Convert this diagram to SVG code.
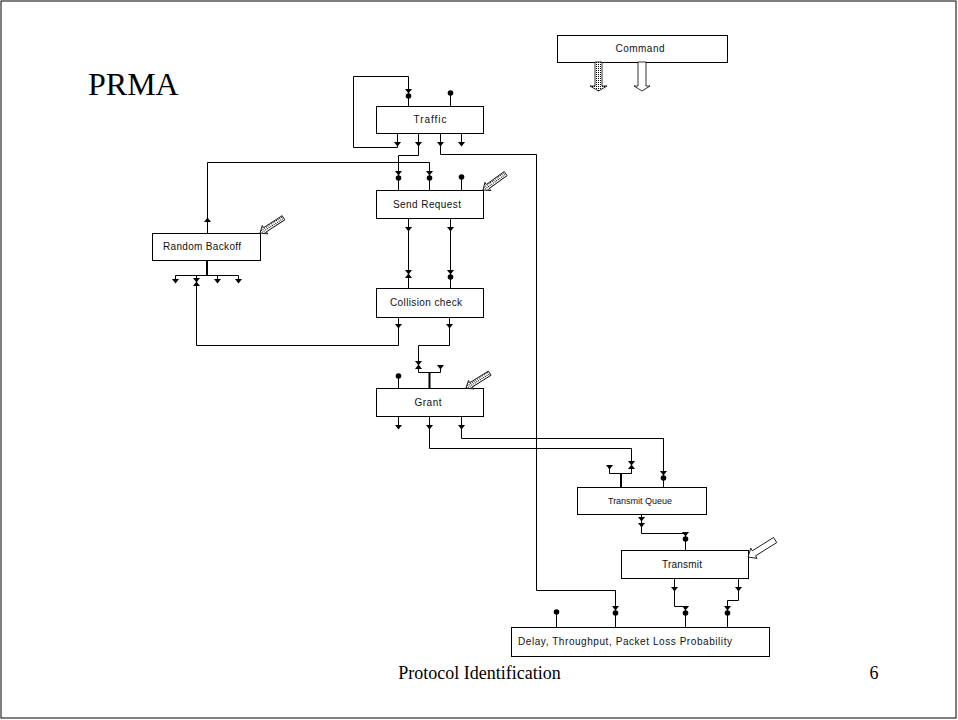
<svg xmlns="http://www.w3.org/2000/svg" width="958" height="720" viewBox="0 0 958 720">
<defs>
<style>
.box{fill:#fff;stroke:#000;stroke-width:1}
.lbl{font-family:"Liberation Sans",Arial,sans-serif;font-size:10px;fill:#111;text-anchor:middle}
.ln{fill:none;stroke:#000;stroke-width:1}
.thick{fill:none;stroke:#000;stroke-width:2}
.ttl{font-family:"Liberation Serif","Times New Roman",serif;fill:#000}
.hatch{fill:url(#dots);stroke:#000;stroke-width:0.8}
.hollow{fill:#fff;stroke:#000;stroke-width:0.8}
</style>
<pattern id="dots" width="2" height="2" patternUnits="userSpaceOnUse">
<rect width="2" height="2" fill="#fff"/>
<rect width="1" height="1" fill="#000"/>
</pattern>
<path id="dn" d="M-3.5,0 L3.5,0 L0,4.5 Z" fill="#000"/>
<path id="up" d="M-3.5,0 L3.5,0 L0,-4.5 Z" fill="#000"/>
<circle id="dot" r="2.8" fill="#000"/>
<g id="harrow">
<path d="M0,0 L6,-5 L6,-2.5 L28,-2.5 L28,2.5 L6,2.5 L6,5 Z" class="hatch"/>
</g>
<g id="oarrow">
<path d="M0,0 L7,-6 L7,-3 L32,-3 L32,3 L7,3 L7,6 Z" class="hollow"/>
</g>
</defs>

<rect x="1" y="1" width="955" height="717" fill="#fff" stroke="#000" stroke-width="1"/>

<text class="ttl" x="88" y="95" font-size="32">PRMA</text>
<text class="ttl" x="479.5" y="679" font-size="18" text-anchor="middle">Protocol Identification</text>
<text class="ttl" x="874" y="679" font-size="18" text-anchor="middle">6</text>

<g id="connectors">
<path class="ln" d="M397.5,133 V147.5 H353.5 V76.5 H408.5 V106"/>
<path class="ln" d="M418.5,133 V155.5 H398.5 V190"/>
<path class="ln" d="M440.5,133 V154.5 H536.5 V590.5 H615.5 V627"/>
<path class="ln" d="M461.5,133 V143"/>
<path class="ln" d="M207.5,233 V162.5 H429.5 V190"/>
<path class="ln" d="M408.5,218 V288"/>
<path class="ln" d="M450.5,218 V288"/>
<path class="ln" d="M398.5,318 V345.5 H196.5 V280"/>
<path class="ln" d="M449.5,318 V345.5 H418.5 V372.5 H440.5 V366"/>
<path class="thick" d="M429.5,372 V388"/>
<path class="ln" d="M398.5,416 V426"/>
<path class="ln" d="M429.5,416 V448.5 H631.5 V473.5 H609.5 V466"/>
<path class="thick" d="M621,473 V487"/>
<path class="ln" d="M461.5,416 V438.5 H663.5 V487"/>
<path class="ln" d="M641.5,514 V533.5 H685.5 V550"/>
<path class="ln" d="M674.5,578 V606.5 H685.5 V627"/>
<path class="ln" d="M738.5,578 V600.5 H727.5 V627"/>
<path class="ln" d="M556.5,612 V627"/>
<path class="thick" d="M207,260 V275"/>
<path class="ln" d="M175.5,280 V275.5 H238.5 V280 M217.5,275.5 V280 M196.5,275.5 V279"/>
<path class="ln" d="M450.5,93 V106"/>
<path class="ln" d="M461.5,177 V190"/>
<path class="ln" d="M398.5,376 V388"/>

<use href="#dn" x="408.5" y="89"/><use href="#dot" x="408.5" y="96"/>
<use href="#dot" x="450.5" y="93"/>
<use href="#dn" x="397.5" y="142"/><use href="#dn" x="418.5" y="142"/><use href="#dn" x="440.5" y="142"/><use href="#dn" x="461.5" y="142"/>
<use href="#dn" x="398.5" y="171"/><use href="#dot" x="398.5" y="178"/>
<use href="#dn" x="429.5" y="171"/><use href="#dot" x="429.5" y="178"/>
<use href="#dot" x="461.5" y="177"/>
<use href="#up" x="207.5" y="222"/>
<use href="#dn" x="408.5" y="227"/><use href="#dn" x="450.5" y="227"/>
<use href="#dn" x="408.5" y="270"/><use href="#up" x="408.5" y="278"/>
<use href="#dn" x="450.5" y="270"/><use href="#dot" x="450.5" y="277"/>
<use href="#dn" x="398.5" y="324"/><use href="#dn" x="449.5" y="324"/>
<use href="#dn" x="175.5" y="279"/><use href="#dn" x="217.5" y="279"/><use href="#dn" x="238.5" y="279"/>
<use href="#dn" x="196.5" y="278"/><use href="#up" x="196.5" y="286"/>
<use href="#dn" x="418.5" y="361"/><use href="#up" x="418.5" y="369"/>
<use href="#dn" x="440.5" y="365"/>
<use href="#dot" x="398.5" y="376"/>
<use href="#dn" x="398.5" y="425"/><use href="#dn" x="429.5" y="425"/><use href="#dn" x="461.5" y="425"/>
<use href="#dn" x="609.5" y="465"/>
<use href="#dn" x="631.5" y="461"/><use href="#up" x="631.5" y="469"/>
<use href="#dn" x="663.5" y="471"/><use href="#dot" x="663.5" y="478"/>
<use href="#dn" x="641.5" y="517"/><use href="#dn" x="641.5" y="523"/>
<use href="#dn" x="685.5" y="532"/><use href="#dot" x="685.5" y="539"/>
<use href="#dn" x="674.5" y="587"/><use href="#dn" x="738.5" y="587"/>
<use href="#dot" x="556.5" y="612"/>
<use href="#dn" x="615.5" y="606"/><use href="#dot" x="615.5" y="613"/>
<use href="#dn" x="685.5" y="606"/><use href="#dot" x="685.5" y="613"/>
<use href="#dn" x="727.5" y="606"/><use href="#dot" x="727.5" y="613"/>
</g>

<g id="command">
<rect class="box" x="557.5" y="35.5" width="170" height="27"/>
<text class="lbl" x="640" y="52" textLength="49" lengthAdjust="spacing">Command</text>
<path class="hatch" d="M595,62 V86 H590 L598.5,91 L607,86 H602 V62 Z"/>
<path class="hollow" d="M638,62 V86 H634 L642,91 L650,86 H646 V62 Z"/>
</g>

<g id="traffic">
<rect class="box" x="376.5" y="106.5" width="107" height="27"/>
<text class="lbl" x="430" y="123" textLength="33" lengthAdjust="spacing">Traffic</text>
</g>

<g id="send-request">
<rect class="box" x="376.5" y="190.5" width="107" height="28"/>
<text class="lbl" x="427" y="208" textLength="68" lengthAdjust="spacing">Send Request</text>
<use href="#harrow" transform="translate(483,190) rotate(-36)"/>
</g>

<g id="random-backoff">
<rect class="box" x="152.5" y="233.5" width="108" height="27"/>
<text class="lbl" x="202" y="250" textLength="78" lengthAdjust="spacing">Random Backoff</text>
<use href="#harrow" transform="translate(260,233) rotate(-33)"/>
</g>

<g id="collision-check">
<rect class="box" x="376.5" y="288.5" width="107" height="29"/>
<text class="lbl" x="426" y="306" textLength="72" lengthAdjust="spacing">Collision check</text>
</g>

<g id="grant">
<rect class="box" x="376.5" y="388.5" width="107" height="28"/>
<text class="lbl" x="428" y="406" textLength="27" lengthAdjust="spacing">Grant</text>
<use href="#harrow" transform="translate(466,388) rotate(-32)"/>
</g>

<g id="transmit-queue">
<rect class="box" x="577.5" y="487.5" width="129" height="27"/>
<text class="lbl" x="640" y="504" style="font-size:9px" textLength="64" lengthAdjust="spacing">Transmit Queue</text>
</g>

<g id="transmit">
<rect class="box" x="621.5" y="550.5" width="127" height="28"/>
<text class="lbl" x="682" y="568" textLength="40" lengthAdjust="spacing">Transmit</text>
<use href="#oarrow" transform="translate(748,557) rotate(-32)"/>
</g>

<g id="delay">
<rect class="box" x="511.5" y="627.5" width="258" height="29"/>
<text class="lbl" x="518" y="645" textLength="214" lengthAdjust="spacing" style="text-anchor:start">Delay, Throughput, Packet Loss Probability</text>
</g>
</svg>
